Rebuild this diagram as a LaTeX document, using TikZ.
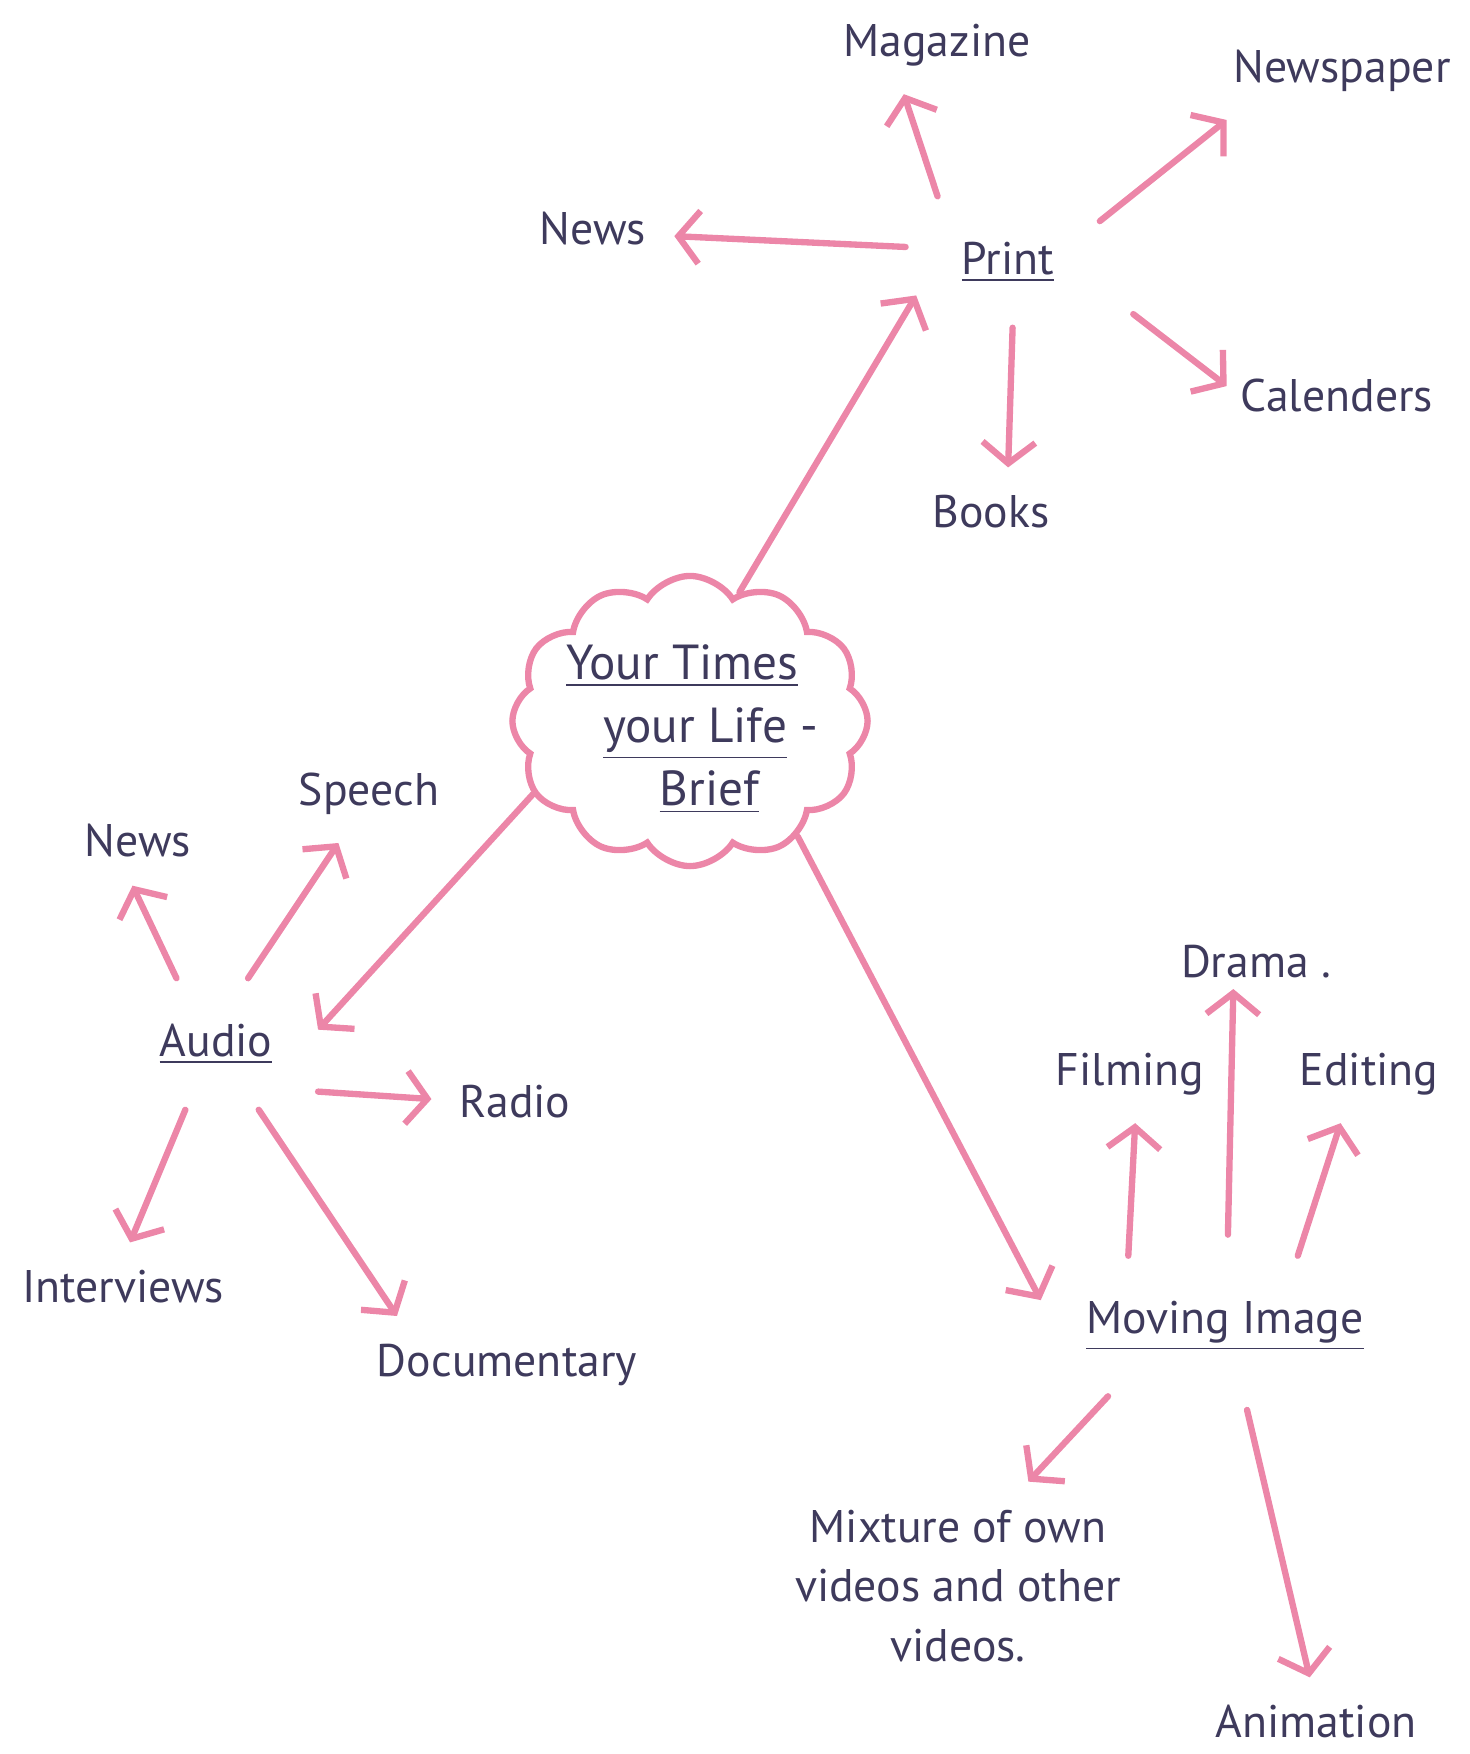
\documentclass[tikz,border=0pt]{standalone}
\usepackage{fontspec}
\setmainfont{PT Sans}
\usetikzlibrary{arrows.meta,shapes.symbols}
\definecolor{marker}{RGB}{236,134,168}
\definecolor{pen}{RGB}{62,58,92}
\tikzset{
  word/.style={text=pen, font=\fontsize{13}{17}\selectfont, inner sep=3pt, outer sep=5pt},
  hub/.style={word, outer sep=10pt},
  link/.style={draw=marker, line width=1.8pt, line cap=round,
    -{Straight Barb[length=6pt,width=15pt]}},
}

\begin{document}
\begin{tikzpicture}[x=0.01cm,y=-0.01cm]
  \useasboundingbox (0,0) rectangle (1469,1754);
  % the brief in its cloud
  \node[cloud, draw=marker, line width=1.8pt, cloud puffs=12, cloud puff arc=115,
        minimum width=3.55cm, minimum height=2.9cm] (brief) at (690,721) {};
  \node[word, font=\fontsize{14}{18}\selectfont, align=left, anchor=west] (brieftext) at (538,729)
    {\underline{Your Times}\\ \hspace{0.75em}\underline{your Life} -\\ \hspace{1.9em}\underline{Brief}};
  % print
  \node[hub]  (print)      at (1008,262) {\underline{Print}};
  \node[word] (magazine)   at (937,45)   {Magazine};
  \node[word] (newspaper)  at (1342,71)  {Newspaper};
  \node[word] (newsP)      at (593,229)  {News};
  \node[word] (calenders)  at (1337,395) {Calenders};
  \node[word] (books)      at (991,512)  {Books};
  % audio
  \node[hub]  (audio)       at (216,1044) {\underline{Audio}};
  \node[word] (newsA)       at (138,841)  {News};
  \node[word] (speech)      at (369,794)  {Speech};
  \node[word] (radio)       at (515,1102) {Radio};
  \node[word] (interviews)  at (123,1287) {Interviews};
  \node[word] (documentary) at (507,1365) {Documentary};
  % moving image
  \node[hub]  (moving)    at (1225,1326) {\underline{Moving Image}};
  \node[word] (filming)   at (1130,1074) {Filming};
  \node[word, outer sep=0pt] (drama) at (1256,962) {Drama .};
  \node[word] (editing)   at (1369,1074) {Editing};
  \node[word, align=center] (mixture) at (958,1586)
    {Mixture of own\\videos and other\\videos.};
  \node[word] (animation) at (1316,1722) {Animation};

  \draw[link] (brief.69)  -- (print.200);
  \draw[link] (brief.205) -- (audio.8);
  \draw[link] (brief.313) -- (moving.172);

  \draw[link, shorten <=3pt] (print.171) -- (newsP.355);
  \draw[link] (print.137) -- (magazine.236);
  \draw[link] (print.24)  -- (newspaper.203);
  \draw[link, shorten <=12pt, shorten >=-5pt] (print.344) -- (calenders.171);
  \draw[link] (print.274) -- (books.69);

  \draw[link] (audio.121) -- (newsA.263);
  \draw[link] (audio.64)  -- (speech.238);
  \draw[link] (audio.335) -- (radio.178);
  \draw[link] (audio.245) -- (interviews.81);
  \draw[link] (audio.303) -- (documentary.156);

  \draw[link] (moving.144) -- (filming.276);
  \draw[link, shorten <=6pt] (moving.88) -- (drama.230);
  \draw[link] (moving.44)  -- (editing.240);
  \draw[link] (moving.211) -- (mixture.56);
  \draw[link, shorten <=4pt] (moving.285) -- (animation.98);
\end{tikzpicture}
\end{document}
